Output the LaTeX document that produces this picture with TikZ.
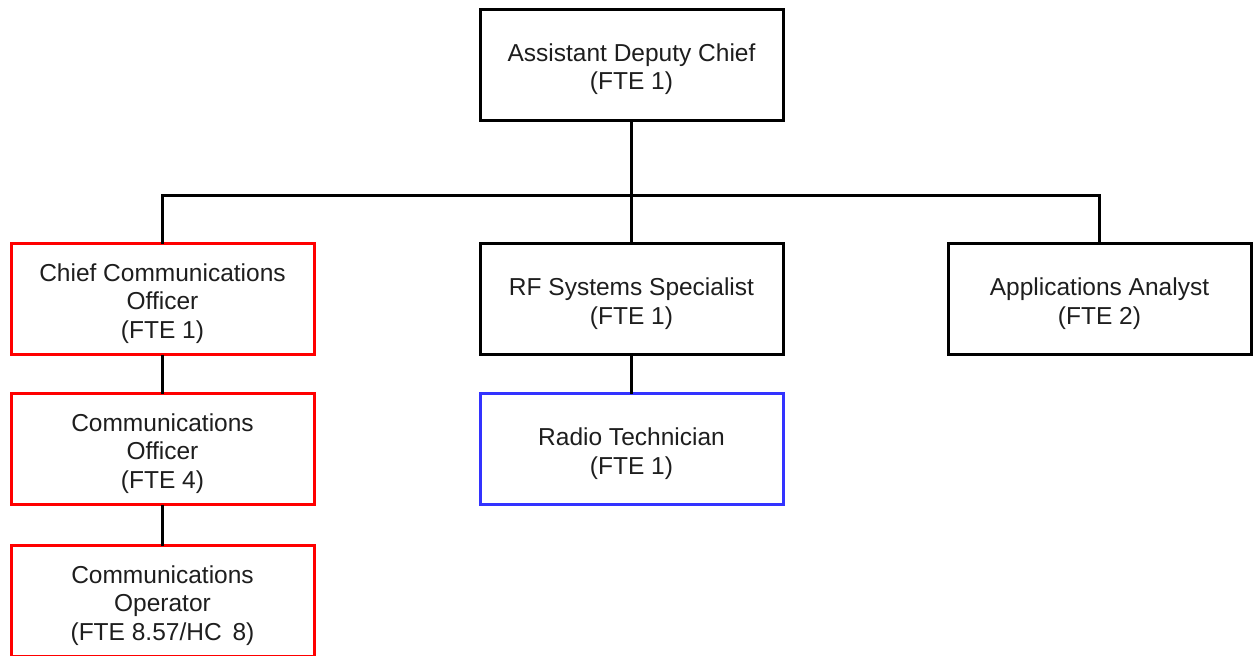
\documentclass[tikz,border=0pt]{standalone}
\usepackage{fontspec}
\setmainfont{Liberation Sans}
\definecolor{boxred}{RGB}{255,0,0}
\definecolor{boxblue}{RGB}{51,51,255}
\definecolor{txt}{RGB}{30,30,30}
\newcommand\topstrut{\rule{0pt}{27pt}}
\begin{document}
\begin{tikzpicture}[x=1pt,y=-1pt,
  orgbox/.style={draw=black, line width=3pt, fill=white, minimum width=303pt, minimum height=111pt,
    inner sep=0pt, outer sep=0pt, align=center, text=txt,
    font=\fontsize{24.5}{28.5}\selectfont},
  redbox/.style={orgbox, draw=boxred},
  bluebox/.style={orgbox, draw=boxblue},
  link/.style={line width=3pt}]
\clip (0,0) rectangle (1254,656);
\useasboundingbox (0,0) rectangle (1254,656);
\node[orgbox] (adc) at (631.5,64.5) {\topstrut Assistant Deputy Chief\\(FTE 1)};
\node[redbox] (cco) at (162.5,299) {\topstrut Chief Communications\\Officer\\(FTE 1)};
\node[redbox] (co) at (162.5,449) {\topstrut Communications\\Officer\\(FTE 4)};
\node[redbox] (cop) at (162.5,601) {\topstrut Communications\\Operator\\(FTE 8.57/HC\, 8)};
\node[orgbox] (rf) at (631.5,299) {\topstrut RF Systems Specialist\\(FTE 1)};
\node[bluebox] (rt) at (631.5,449) {\topstrut Radio Technician\\(FTE 1)};
\node[orgbox] (aa) at (1099.5,299) {\topstrut Applications Analyst\\(FTE 2)};
\coordinate (bus) at (631.5,195);
\draw[link] (adc.south) -- (rf.north);
\draw[link] (cco.north) |- (bus) -| (aa.north);
\draw[link] (cco.south) -- (co.north);
\draw[link] (co.south) -- (cop.north);
\draw[link] (rf.south) -- (rt.north);
\end{tikzpicture}
\end{document}
